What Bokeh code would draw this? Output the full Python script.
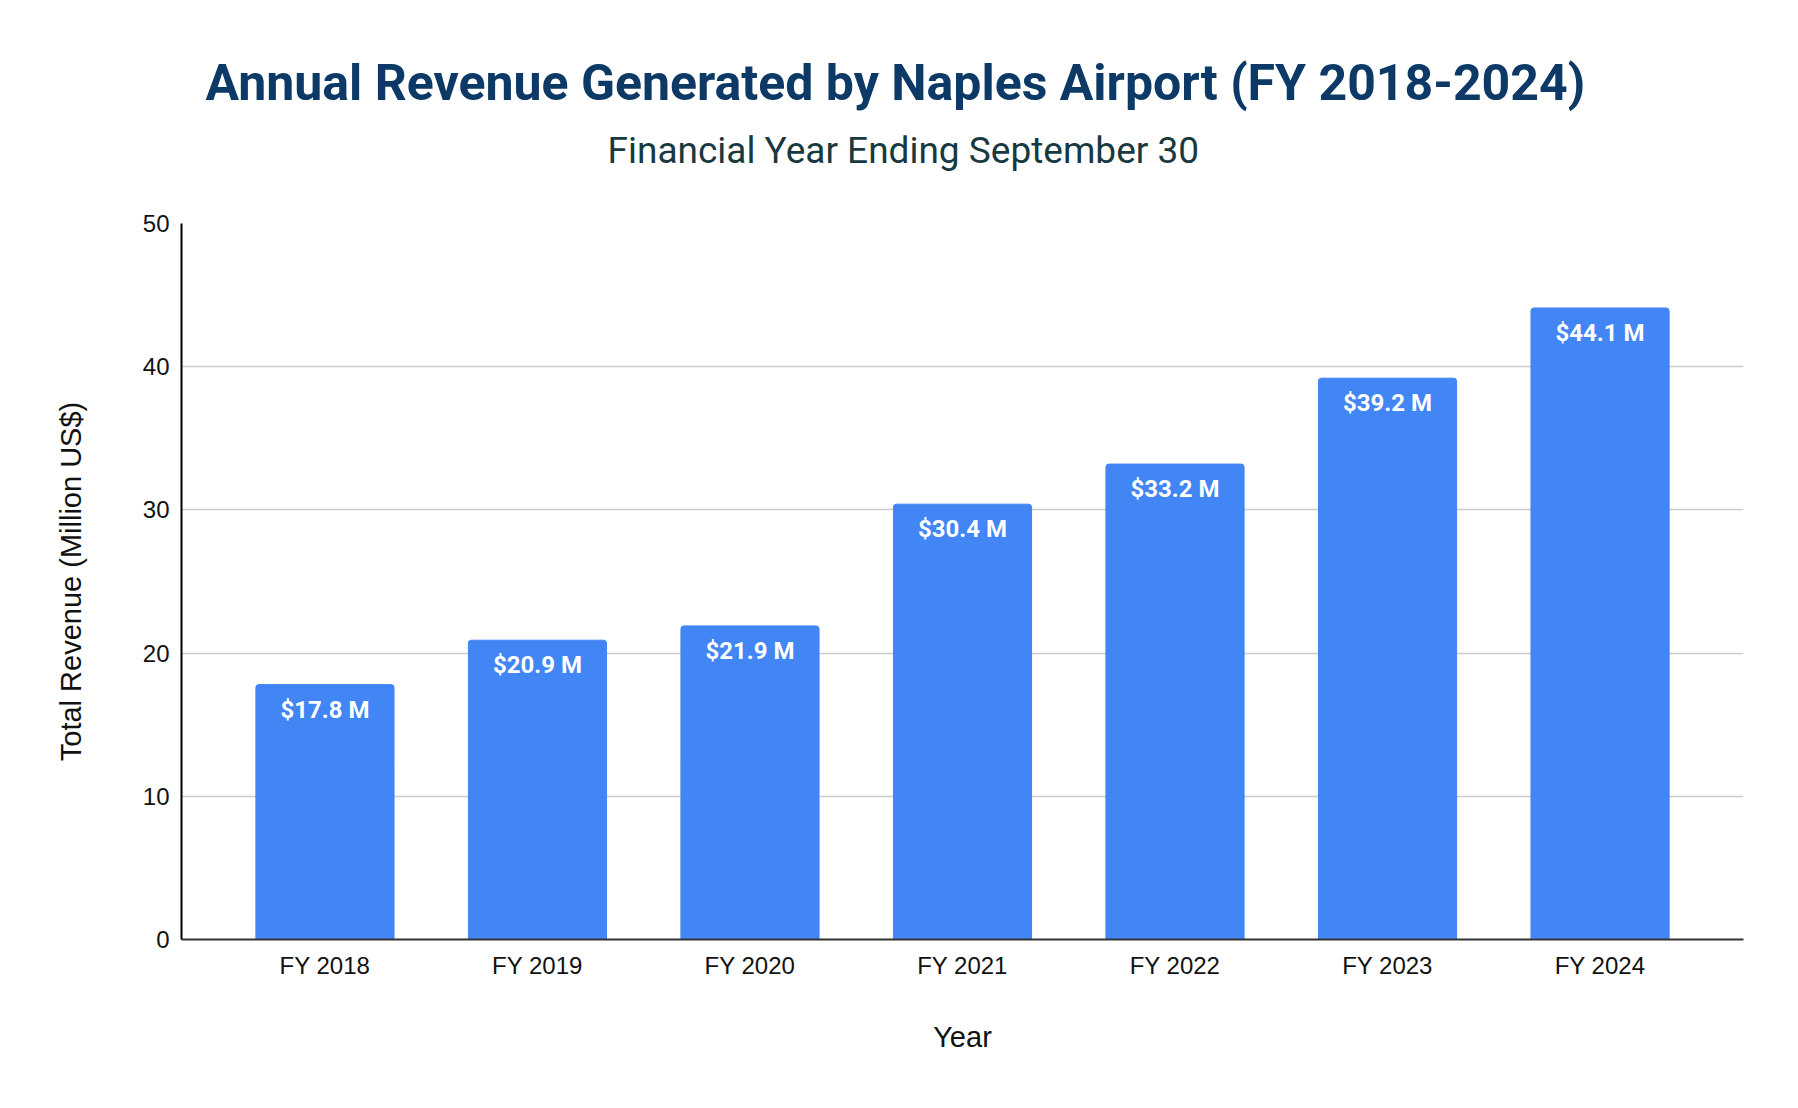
from bokeh.plotting import figure
from bokeh.models import Range1d, FactorRange, SingleIntervalTicker, Title, ColumnDataSource
from bokeh.core.properties import value
from bokeh.embed import file_html
from bokeh.resources import INLINE

years = ["FY 2018", "FY 2019", "FY 2020", "FY 2021", "FY 2022", "FY 2023", "FY 2024"]
revenue = [17.8, 20.9, 21.9, 30.4, 33.2, 39.2, 44.1]
labels = ["$17.8 M", "$20.9 M", "$21.9 M", "$30.4 M", "$33.2 M", "$39.2 M", "$44.1 M"]

source = ColumnDataSource(dict(year=years, revenue=revenue, label=labels))

p = figure(
    width=1782, height=1090,
    x_range=FactorRange(*years, range_padding=0.175, range_padding_units="absolute"),
    y_range=Range1d(0, 50),
    output_backend="svg", toolbar_location=None,
    min_border_left=181, min_border_right=39, min_border_top=223, min_border_bottom=151,
)
p.outline_line_color = None
p.background_fill_color = "white"
p.border_fill_color = "white"

p.title.text = "Annual Revenue Generated by Naples Airport (FY 2018-2024)"
p.title.align = "left"
p.title.offset = 24
p.title.standoff = 30
p.title.text_font = "Roboto"
p.title.text_font_style = "bold"
p.title.text_font_size = "50px"
p.title.text_color = "#0c3966"
# spacer between subtitle and plot area (first item sits nearest the plot)
p.add_layout(Title(text=" ", text_font_size="1px", standoff=49), "above")
p.add_layout(Title(text="Financial Year Ending September 30", align="left", offset=426,
                   text_font="Roboto", text_font_style="normal", text_font_size="37px",
                   text_color="#17393f", standoff=0), "above")

p.vbar(x="year", top="revenue", width=0.65, source=source, color="#4285f4",
       border_radius=(3, 3, 0, 0))

p.text(x="year", y="revenue", text="label", source=source,
       text_font=value("Roboto"), text_font_style="bold", text_font_size="24px",
       text_color="white", text_align="center", text_baseline="middle", y_offset=25)

p.yaxis.ticker = SingleIntervalTicker(interval=10)
p.yaxis.axis_label = "Total Revenue (Million US$)"
p.xaxis.axis_label = "Year"
for ax in (p.xaxis, p.yaxis):
    ax.axis_label_text_font = "Liberation Sans"
    ax.axis_label_text_font_style = "normal"
    ax.axis_label_text_color = "#111111"
    ax.major_label_text_font = "Liberation Sans"
    ax.major_label_text_font_size = "24px"
    ax.major_label_text_color = "#111111"
    ax.major_tick_line_color = None
    ax.minor_tick_line_color = None
    ax.axis_line_width = 2
p.yaxis.axis_label_text_font_size = "29px"
p.xaxis.axis_label_text_font_size = "29px"
p.yaxis.axis_line_color = "black"
p.xaxis.axis_line_color = "#333333"
p.yaxis.major_label_standoff = 6
p.yaxis.axis_label_standoff = 53
p.xaxis.major_label_standoff = 6
p.xaxis.axis_label_standoff = 39

p.xgrid.grid_line_color = None
p.ygrid.grid_line_color = "#cccccc"
p.ygrid.grid_line_width = 1.5

open("out.html", "w").write(file_html(p, INLINE))
